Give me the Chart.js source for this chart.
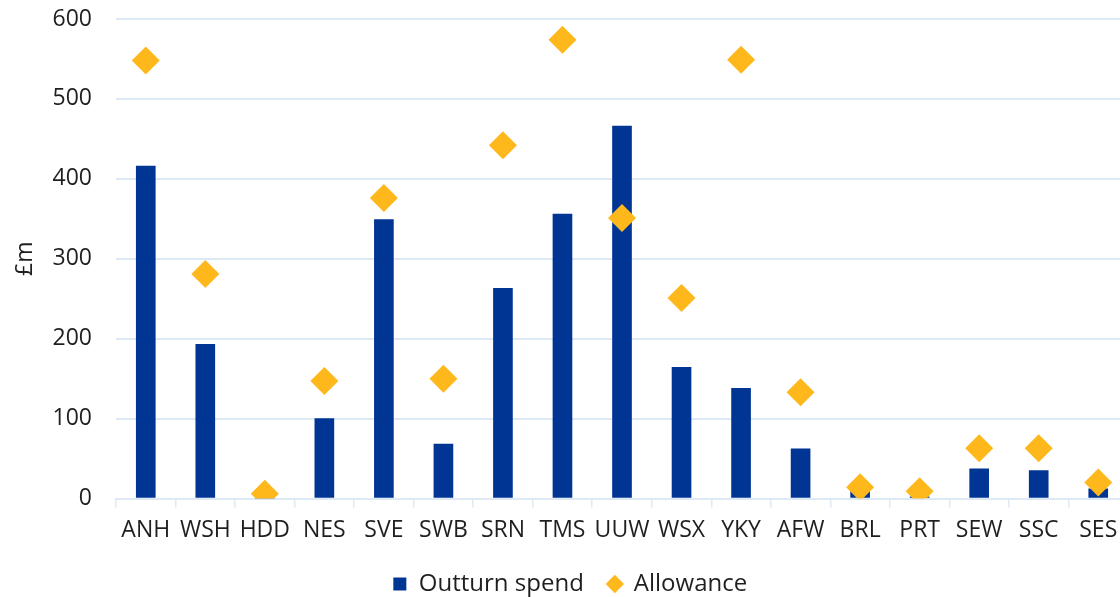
<!DOCTYPE html>
<html>
<head>
<meta charset="utf-8">
<script src="https://cdn.jsdelivr.net/npm/chart.js@4"></script>
<style>
  html, body { margin: 0; padding: 0; background: #fff; overflow: hidden; }
  #chart { display: block; }
</style>
</head>
<body>
<canvas id="chart" width="1140" height="597"></canvas>
<script>
const companies = ["ANH", "WSH", "HDD", "NES", "SVE", "SWB", "SRN", "TMS", "UUW",
  "WSX", "YKY", "AFW", "BRL", "PRT", "SEW", "SSC", "SES"]
const outturnSpend = [416, 193, 0, 100, 349, 68, 263, 356, 466, 164, 138, 62, 9, 2, 37, 35, 12]
const allowance = [548, 281, 6, 147, 376, 150, 442, 574, 351, 251, 549, 133, 14, 9, 63, 63, 20]
const yTicks = [0, 100, 200, 300, 400, 500, 600]

const BLUE = "#003594"
const GOLD = "#ffb81c"
const GRID = "#dde9f4"
const TEXT = "#1f1f1f"
const FONT = "'Open Sans', sans-serif"

new Chart(document.getElementById("chart"), {
  data: {
    labels: companies,
    datasets: [
      {
        type: "bar",
        label: "Outturn spend",
        data: outturnSpend,
        backgroundColor: BLUE,
        barThickness: 19,
        order: 1
      },
      {
        type: "line",
        label: "Allowance",
        data: allowance,
        showLine: false,
        pointStyle: "rectRot",
        pointRadius: 14,
        pointHoverRadius: 14,
        pointBackgroundColor: GOLD,
        pointBorderWidth: 0,
        backgroundColor: GOLD,
        borderColor: GOLD,
        order: 0
      }
    ]
  },
  options: {
    responsive: false,
    animation: false,
    layout: { autoPadding: false, padding: { top: 19, right: 12, left: 12, bottom: 0 } },
    plugins: {
      tooltip: { enabled: false },
      legend: {
        position: "bottom",
        maxHeight: 49,
        labels: {
          usePointStyle: true,
          boxHeight: 13,
          boxWidth: 14,
          padding: 24,
          color: TEXT,
          font: { family: FONT, size: 24 },
          sort: (a, b) => a.datasetIndex - b.datasetIndex,
          generateLabels: (chart) => {
            const items = Chart.defaults.plugins.legend.labels.generateLabels(chart)
            items.forEach((it) => {
              it.pointStyle = it.datasetIndex === 0 ? "rect" : "rectRot"
              it.lineWidth = 0
              it.strokeStyle = "transparent"
            })
            return items
          }
        }
      }
    },
    scales: {
      x: {
        offset: true,
        afterFit: (scale) => { scale.height = 49.5 },
        grid: { drawOnChartArea: false, color: GRID, tickLength: 9, lineWidth: 1.5 },
        border: { color: GRID, width: 2 },
        ticks: { color: TEXT, font: { family: FONT, size: 23 }, padding: 9, maxRotation: 0, autoSkip: false }
      },
      y: {
        min: 0,
        max: 600,
        afterFit: (scale) => { scale.width = 104 },
        afterBuildTicks: (scale) => { scale.ticks = yTicks.map((v) => ({ value: v })) },
        grid: { color: GRID, lineWidth: 2, drawTicks: true, tickLength: 24, tickColor: "rgba(0,0,0,0)" },
        border: { display: false },
        ticks: { color: TEXT, font: { family: FONT, size: 23 }, padding: 0 },
        title: { display: true, text: "£m", color: TEXT, font: { family: FONT, size: 23 }, padding: 0 }
      }
    }
  }
})
</script>
</body>
</html>
